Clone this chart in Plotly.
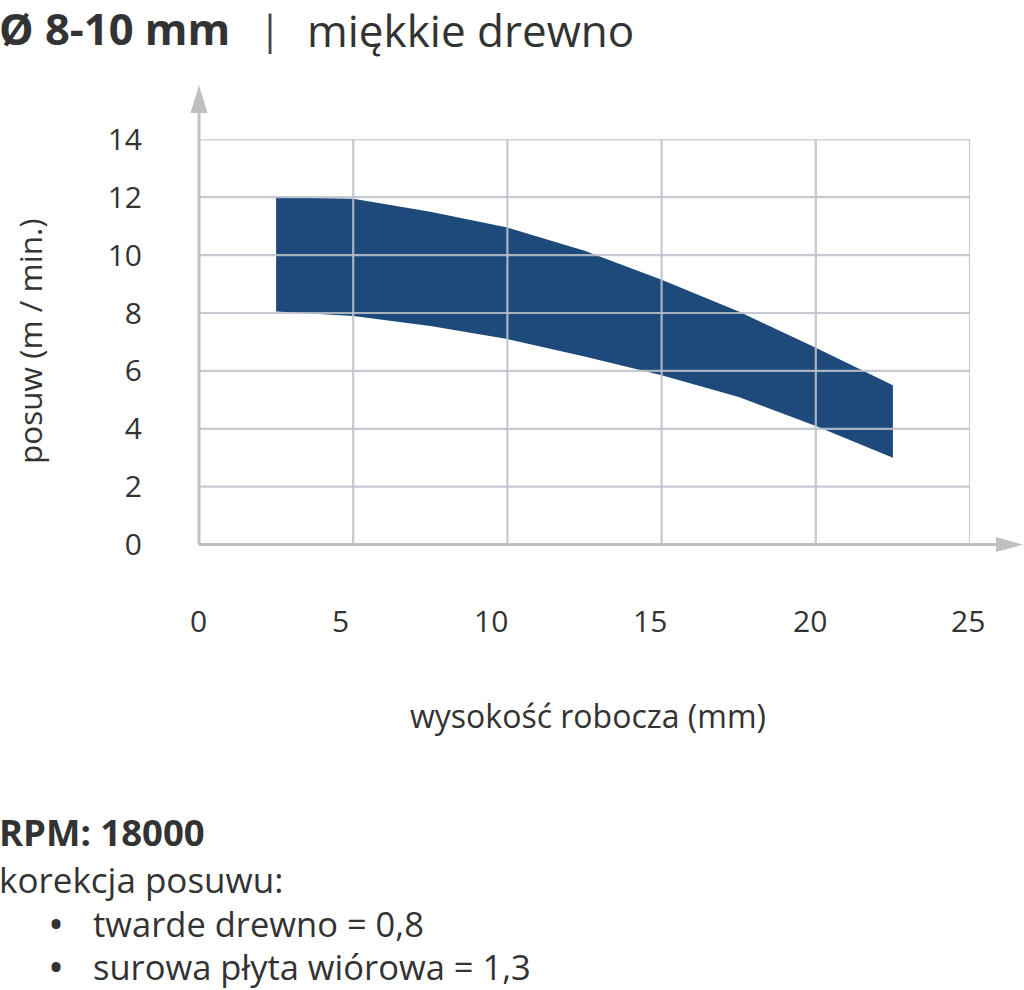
import plotly.graph_objects as go

# ---- data ----
x_vals = [2.5, 5, 7.5, 10, 12.5, 15, 17.5, 20, 22.5]
feed_max = [12.0, 11.95, 11.5, 10.95, 10.15, 9.15, 8.05, 6.8, 5.5]
feed_min = [8.05, 7.9, 7.55, 7.1, 6.5, 5.85, 5.1, 4.1, 3.0]
x_ticks = [0, 5, 10, 15, 20, 25]
y_ticks = [0, 2, 4, 6, 8, 10, 12, 14]
title_bold = "Ø 8-10 mm"
title_light = "miękkie drewno"
x_title = "wysokość robocza (mm)"
y_title = "posuw (m / min.)"
rpm_text = "RPM: 18000"
corr_text = "korekcja posuwu:"
corr_items = ["twarde drewno = 0,8", "surowa płyta wiórowa = 1,3"]

FONT = "Open Sans"
TXT = "#333333"
GRID = "rgba(188,194,204,0.88)"
AXIS = "#c0c0c0"
BAND = "#1d4a7b"

W, H = 1024, 990
xd = [199 / W, 970 / W]
yd = [1 - 544.6 / H, 1 - 139.3 / H]
x_label_shift = [-1, -13, -16, -12, -6, -2]   # horizontal nudge of x tick labels (px)

fig = go.Figure()
fig.add_trace(go.Scatter(
    x=x_vals + x_vals[::-1],
    y=feed_max + feed_min[::-1],
    fill="toself", fillcolor=BAND, mode="lines",
    line=dict(width=0, color=BAND), hoverinfo="skip", showlegend=False,
))

shapes = []
# grid lines (above the band)
for xv in x_ticks[1:]:
    shapes.append(dict(type="line", xref="x", yref="y", x0=xv, x1=xv,
                       y0=y_ticks[0], y1=y_ticks[-1], layer="above",
                       line=dict(color=GRID, width=2.2)))
for yv in y_ticks[1:]:
    shapes.append(dict(type="line", xref="x", yref="y", x0=x_ticks[0], x1=x_ticks[-1],
                       y0=yv, y1=yv, layer="above",
                       line=dict(color=GRID, width=2.2)))
# axis lines with arrows
y_tip = 1 - 85 / H
y_base = 1 - 113 / H
x_tip = 1023 / W
x_base = 996 / W
shapes.append(dict(type="line", xref="paper", yref="paper", x0=xd[0], x1=xd[0],
                   y0=yd[0], y1=y_base + 0.002, layer="above",
                   line=dict(color=AXIS, width=3)))
shapes.append(dict(type="line", xref="paper", yref="paper", x0=xd[0], x1=x_base + 0.002,
                   y0=yd[0], y1=yd[0], layer="above",
                   line=dict(color=AXIS, width=3)))
hw = 8.5 / W
hh = 7.5 / H
shapes.append(dict(type="path", xref="paper", yref="paper",
                   path=f"M {xd[0]-hw},{y_base} L {xd[0]+hw},{y_base} L {xd[0]},{y_tip} Z",
                   fillcolor=AXIS, line=dict(width=0), layer="above"))
shapes.append(dict(type="path", xref="paper", yref="paper",
                   path=f"M {x_base},{yd[0]+hh} L {x_base},{yd[0]-hh} L {x_tip},{yd[0]} Z",
                   fillcolor=AXIS, line=dict(width=0), layer="above"))

ann = []
def A(text, x, y, size, xanchor="left", yanchor="middle", angle=0, color=TXT, xref="paper", xshift=0):
    ann.append(dict(text=text, x=x, y=y, xref=xref, yref="paper", showarrow=False,
                    xanchor=xanchor, yanchor=yanchor, textangle=angle, xshift=xshift,
                    borderpad=0,
                    font=dict(family=FONT, size=size, color=color)))

A(f"<b>{title_bold}</b>", -2 / W, 1 - 29 / H, 43.5)
A("|", 270 / W, 1 - 29 / H, 40, xanchor="center", color="#444444")
A(title_light, 306 / W, 1 - 30 / H, 44)
for tv, sh in zip(x_ticks, x_label_shift):
    A(str(tv), tv, 1 - 620 / H, 30, xanchor="center", xref="x", xshift=sh)
A(x_title, 588 / W, 1 - 715 / H, 32, xanchor="center")
A(y_title, 29 / W, 1 - 341 / H, 31.5, xanchor="center", angle=-90)
A(f"<b>{rpm_text}</b>", -2 / W, 1 - 832 / H, 36.5)
A(corr_text, -2 / W, 1 - 879 / H, 35)
for i, item in enumerate(corr_items):
    yy = 1 - (923 + 43 * i) / H
    A("<b>•</b>", 56 / W, yy, 32, xanchor="center")
    A(item, 92 / W, yy, 34.5)

fig.update_layout(
    width=W, height=H, margin=dict(l=0, r=0, t=0, b=0, autoexpand=False),
    paper_bgcolor="white", plot_bgcolor="white", showlegend=False,
    font=dict(family=FONT, color=TXT),
    xaxis=dict(domain=xd, range=[0, 25], tickvals=x_ticks, showgrid=False,
               zeroline=False, showline=False, ticks="", showticklabels=False,
               automargin=False, fixedrange=True),
    yaxis=dict(domain=yd, range=[0, 14], tickvals=y_ticks, showgrid=False,
               zeroline=False, showline=False, ticks="", ticklabelstandoff=56,
               tickfont=dict(size=30, color=TXT, family=FONT),
               automargin=False, fixedrange=True),
    shapes=shapes, annotations=ann,
)

fig.write_html("out.html", config={"displayModeBar": False},
               post_script="document.body.style.margin='0px';document.body.style.overflow='hidden';")
